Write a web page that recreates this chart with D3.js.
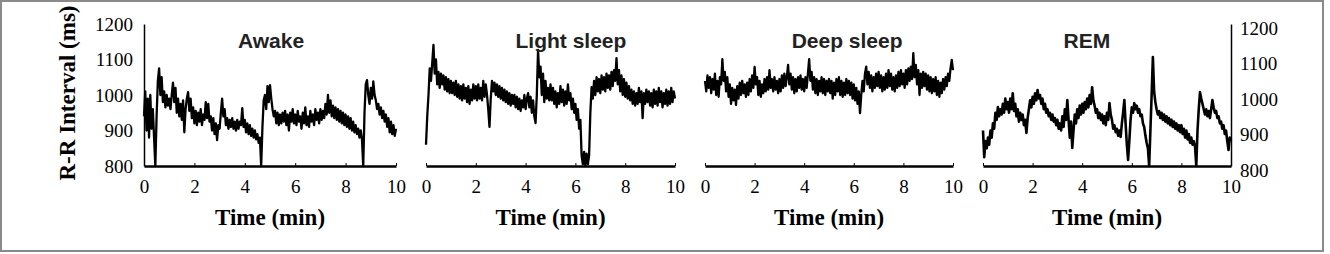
<!DOCTYPE html>
<html>
<head>
<meta charset="utf-8">
<script src="https://cdn.jsdelivr.net/npm/d3@7"></script>
<style>
  body { margin: 0; background: #fff; }
  svg { display: block; }
</style>
</head>
<body>
<div id="chart"></div>
<script>
// Panel names and axis ticks
const stages = ["Awake", "Light sleep", "Deep sleep", "REM"];
const timeTicks = [0, 2, 4, 6, 8, 10];
const rrTicks = [800, 900, 1000, 1100, 1200];

// R-R interval (ms), one value every 0.05 min from 0 to 10 min
const awake = [
  940, 1010, 900, 990, 880, 1000, 905, 960, 880, 800, 940, 1040, 1075, 1000, 1050, 980, 1010, 965, 1000, 970,
  990, 960, 1000, 1035, 980, 1020, 950, 990, 940, 975, 930, 985, 895, 960, 990, 1008, 955, 990, 935, 965,
  920, 955, 915, 950, 925, 960, 915, 945, 930, 980, 935, 975, 925, 940, 900, 935, 890, 920, 873, 915,
  905, 950, 990, 940, 960, 915, 935, 905, 930, 910, 935, 905, 925, 900, 930, 905, 925, 915, 963, 910,
  930, 895, 920, 890, 915, 885, 905, 880, 900, 875, 890, 865, 880, 800, 910, 985, 1000, 960, 1025, 980,
  1028, 990, 960, 940, 955, 920, 950, 915, 945, 920, 950, 925, 955, 915, 945, 900, 950, 925, 960, 920,
  945, 915, 955, 925, 940, 905, 950, 920, 965, 915, 940, 910, 955, 925, 945, 915, 960, 930, 950, 920,
  960, 930, 955, 935, 975, 945, 1000, 950, 985, 940, 970, 935, 965, 930, 960, 925, 955, 920, 950, 915,
  945, 910, 940, 905, 935, 900, 925, 895, 915, 890, 905, 880, 900, 875, 800, 950, 1030, 1042, 1000, 975,
  1020, 990, 1038, 1000, 985, 960, 975, 945, 965, 935, 955, 925, 945, 910, 935, 895, 925, 890, 915, 885,
  905
];
const lightSleep = [
  860, 940, 1000, 1075, 1040, 1090, 1141, 1060, 1100, 1030, 1065, 1020, 1060, 1030, 1055, 1015, 1050, 1010, 1045, 1005,
  1040, 1005, 1035, 1000, 1040, 995, 1030, 990, 1025, 985, 1030, 990, 1020, 980, 1025, 975, 1015, 985, 1030, 990,
  1025, 985, 1030, 990, 1020, 985, 1040, 995, 1030, 1000, 960, 910, 990, 1040, 1010, 1035, 1000, 1030, 995, 1025,
  990, 1020, 985, 1015, 980, 1010, 975, 1005, 970, 1000, 975, 1000, 965, 995, 960, 990, 955, 985, 965, 1000,
  960, 990, 1005, 965, 995, 950, 985, 940, 921, 1000, 1127, 1050, 1080, 1000, 1060, 980, 1040, 990, 1020, 985,
  1030, 985, 1020, 975, 1010, 965, 1005, 975, 1025, 980, 1015, 970, 1010, 975, 1030, 985, 1005, 960, 990, 950,
  975, 930, 960, 905, 930, 830, 805, 840, 800, 835, 805, 830, 950, 1022, 990, 1040, 1000, 1050, 1010, 1045,
  1005, 1055, 1015, 1050, 1010, 1060, 1020, 1055, 1015, 1065, 1025, 1070, 1040, 1104, 1030, 1070, 1010, 1055, 1000, 1045,
  995, 1035, 990, 1025, 985, 1015, 975, 1010, 970, 1005, 975, 1020, 980, 1010, 935, 1005, 975, 1015, 980, 1010,
  970, 1005, 965, 1015, 975, 1010, 970, 1020, 980, 1010, 965, 1005, 975, 1015, 970, 1010, 975, 1020, 980, 1010,
  990
];
const deepSleep = [
  1040, 1010, 1055, 1020, 1050, 1005, 1045, 1015, 1060, 1000, 1040, 995, 1050, 1030, 1101, 1040, 1065, 1010, 1050, 995,
  1030, 975, 1020, 985, 1015, 972, 1025, 990, 1035, 1000, 1040, 1005, 1030, 995, 1035, 1000, 1045, 1010, 1055, 1020,
  1079, 1030, 1050, 1000, 1040, 995, 1030, 1005, 1045, 1010, 1050, 1015, 1070, 1020, 1045, 1010, 1050, 1015, 1040, 1005,
  1045, 1010, 1055, 1020, 1060, 1025, 1050, 1085, 1030, 1060, 1015, 1050, 1005, 1045, 1010, 1050, 1020, 1055, 1015, 1045,
  1010, 1050, 1020, 1060, 1101, 1040, 1065, 1015, 1050, 1005, 1045, 1000, 1040, 1010, 1050, 1005, 1045, 1000, 1040, 1010,
  1045, 1005, 1040, 990, 1035, 1000, 1045, 1010, 1050, 1000, 1040, 995, 1035, 1000, 1045, 1005, 1040, 1000, 1035, 990,
  1030, 985, 1020, 975, 1010, 949, 1000, 1040, 1010, 1060, 1080, 1030, 1065, 1020, 1055, 1010, 1050, 1020, 1060, 1025,
  1065, 1020, 1055, 1010, 1050, 1015, 1060, 1020, 1070, 1025, 1060, 1015, 1050, 1010, 1055, 1020, 1065, 1025, 1070, 1030,
  1060, 1020, 1070, 1030, 1075, 1040, 1080, 1045, 1118, 1050, 1085, 1030, 1070, 1000, 1060, 1020, 1065, 1025, 1060, 1015,
  1055, 1010, 1050, 1005, 1045, 1010, 1050, 1000, 1040, 995, 1035, 1005, 1045, 1015, 1050, 1025, 1060, 1040, 1075, 1099,
  1070
];
const rem = [
  900, 825, 870, 850, 880, 860, 900, 880, 920, 905, 950, 930, 966, 940, 960, 945, 975, 950, 990, 960,
  980, 950, 990, 960, 1005, 955, 975, 940, 960, 925, 950, 930, 945, 915, 930, 893, 935, 960, 985, 965,
  995, 975, 1005, 985, 1014, 990, 1000, 975, 990, 960, 975, 950, 960, 940, 950, 930, 945, 925, 935, 915,
  930, 905, 920, 900, 940, 910, 960, 930, 986, 930, 880, 925, 851, 900, 945, 920, 960, 935, 970, 945,
  975, 950, 980, 960, 990, 965, 1000, 975, 1022, 985, 970, 950, 960, 935, 950, 930, 945, 920, 940, 915,
  950, 930, 977, 945, 930, 905, 915, 895, 905, 885, 900, 882, 920, 950, 986, 920, 860, 817, 870, 930,
  965, 950, 977, 960, 970, 950, 960, 940, 945, 920, 910, 885, 865, 850, 800, 900, 1000, 1107, 1010, 980,
  960, 945, 955, 935, 950, 930, 945, 925, 940, 920, 935, 915, 930, 910, 925, 905, 920, 900, 915, 895,
  915, 890, 905, 880, 900, 875, 890, 865, 880, 860, 870, 854, 800, 900, 960, 1008, 990, 975, 960, 945,
  960, 940, 955, 935, 960, 986, 965, 950, 955, 935, 940, 920, 925, 905, 915, 890, 900, 870, 845, 880,
  870
];
const series = [awake, lightSleep, deepSleep, rem];

// Layout (pixels) and title placement (in minutes along each panel)
const width = 1330, height = 254;
const panelX = [[144, 396], [426, 675], [705, 953], [983, 1231]];
const plotTop = 24, plotBottom = 166;
const titleAt = [5.04, 5.82, 5.73, 4.19];
const serif = "Liberation Serif, Times New Roman, serif";

const svg = d3.select("#chart")
  .append("svg")
  .attr("width", width)
  .attr("height", height);

// Outer frame
svg.append("rect")
  .attr("x", 1).attr("y", 1)
  .attr("width", 1322).attr("height", 250)
  .attr("fill", "none")
  .attr("stroke", "#8a8a8a")
  .attr("stroke-width", 2);

const y = d3.scaleLinear().domain([800, 1200]).range([plotBottom, plotTop]);

series.forEach(function(values, p) {
  const x = d3.scaleLinear().domain([0, 10]).range(panelX[p]);
  const step = 10 / (values.length - 1);
  const g = svg.append("g");

  // Trace
  g.append("path")
    .datum(values)
    .attr("fill", "none")
    .attr("stroke", "#000")
    .attr("stroke-width", p === 3 ? 2.6 : 2.3)
    .attr("stroke-linejoin", "round")
    .attr("d", d3.line().x((d, i) => x(i * step)).y(d => y(d)));

  // Time axis
  const xAxis = g.append("g")
    .attr("transform", "translate(0," + plotBottom + ")")
    .call(d3.axisBottom(x).tickValues(timeTicks).tickFormat(d3.format("d"))
      .tickSizeInner(-3).tickSizeOuter(0).tickPadding(14));
  xAxis.select(".domain").attr("stroke-width", 2.5);
  xAxis.selectAll("text")
    .attr("font-family", serif)
    .attr("font-size", 19)
    .attr("fill", "#000");

  // Stage title
  g.append("text")
    .attr("x", x(titleAt[p]))
    .attr("y", 48)
    .attr("text-anchor", "middle")
    .attr("font-family", "Liberation Sans, Arial, sans-serif")
    .attr("font-weight", "bold")
    .attr("font-size", 21)
    .attr("fill", "#222")
    .text(stages[p]);

  // Axis title
  g.append("text")
    .attr("x", (panelX[p][0] + panelX[p][1]) / 2)
    .attr("y", 225)
    .attr("text-anchor", "middle")
    .attr("font-family", serif)
    .attr("font-weight", "bold")
    .attr("font-size", 23)
    .attr("fill", "#000")
    .text("Time (min)");
});

// Left y axis
const yLeft = svg.append("g")
  .attr("transform", "translate(" + panelX[0][0] + ",0)")
  .call(d3.axisLeft(y).tickValues(rrTicks).tickFormat(d3.format("d")).tickSize(0).tickPadding(11));
yLeft.select(".domain").attr("stroke-width", 1.5);
yLeft.selectAll("text")
  .attr("font-family", serif)
  .attr("font-size", 19)
  .attr("fill", "#000");

// Right y axis
const yRight = svg.append("g")
  .attr("transform", "translate(" + panelX[3][1] + ",0)")
  .call(d3.axisRight(y).tickValues(rrTicks).tickFormat(d3.format("d")).tickSize(0).tickPadding(9));
yRight.select(".domain").attr("stroke-width", 1.5);
yRight.selectAll("text")
  .attr("font-family", serif)
  .attr("font-size", 19)
  .attr("fill", "#000")
  .attr("dy", "0.55em");

// Y axis title
svg.append("text")
  .attr("transform", "translate(75,93) rotate(-90)")
  .attr("text-anchor", "middle")
  .attr("font-family", serif)
  .attr("font-weight", "bold")
  .attr("font-size", 23)
  .attr("fill", "#000")
  .text("R-R Interval (ms)");
</script>
</body>
</html>
